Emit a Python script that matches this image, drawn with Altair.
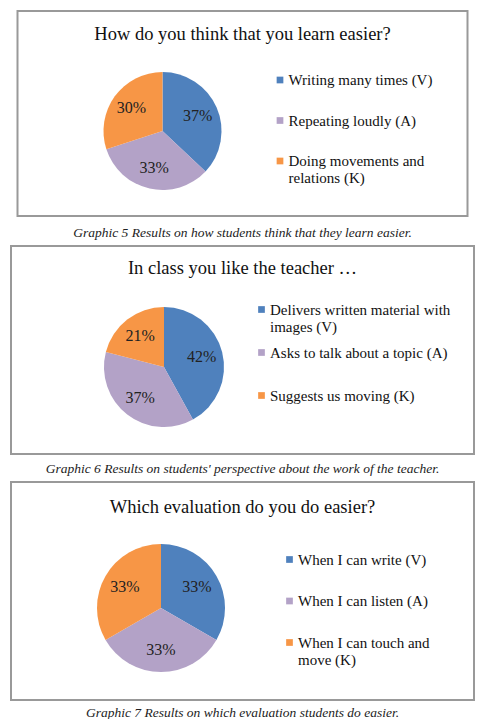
import altair as alt
import pandas as pd

colors = ["#4F81BD", "#B3A2C7", "#F79646"]
FONT = "Liberation Serif"

titles = [
    "How do you think that you learn easier?",
    "In class you like the teacher \u2026",
    "Which evaluation do you do easier?",
]
captions = [
    "Graphic 5 Results on how students think that they learn easier.",
    "Graphic 6 Results on students' perspective about the work of the teacher.",
    "Graphic 7 Results on which evaluation students do easier.",
]
cats1 = ["Writing many times (V)", "Repeating loudly (A)", "Doing movements and|relations (K)"]
vals1 = [37, 33, 30]
cats2 = ["Delivers written material with|images (V)", "Asks to talk about a topic (A)| ", "Suggests us moving (K)"]
vals2 = [42, 37, 21]
cats3 = ["When I can write (V)", "When I can listen (A)", "When I can touch and|move (K)"]
vals3 = [33, 33, 33]


def panel(title, cats, vals, caption, w, h, cx, cy, r, ty, lx, ly, rowpad, capoff):
    df = pd.DataFrame({
        "cat": cats,
        "val": vals,
        "ord": list(range(len(cats))),
        "pct": [f"{v}%" for v in vals],
    })
    base = alt.Chart(df).encode(
        theta=alt.Theta("val:Q", stack=True),
        order=alt.Order("ord:Q"),
    )
    pie = base.mark_arc(outerRadius=r).encode(
        color=alt.Color(
            "cat:N",
            sort=cats,
            scale=alt.Scale(domain=cats, range=colors),
            legend=alt.Legend(
                title=None,
                orient="none",
                legendX=lx,
                legendY=ly,
                symbolType="square",
                symbolSize=45,
                symbolStrokeWidth=0,
                labelFont=FONT,
                labelFontSize=15,
                labelColor="#111",
                labelLimit=400,
                labelOffset=1,
                rowPadding=rowpad,
                labelExpr="split(datum.label, '|')",
            ),
        ),
        x=alt.value(cx),
        y=alt.value(cy),
    )
    txt = base.mark_text(radius=r * 0.65, font=FONT, fontSize=16, color="#222").encode(
        text="pct:N", x=alt.value(cx), y=alt.value(cy)
    )
    head = alt.Chart(pd.DataFrame({"t": [title]})).mark_text(
        font=FONT, fontSize=18.5, color="#111"
    ).encode(text="t:N", x=alt.value(w / 2), y=alt.value(ty))
    return alt.layer(pie, txt, head).properties(
        width=w,
        height=h,
        title=alt.TitleParams(
            caption,
            orient="bottom",
            anchor="middle",
            font=FONT,
            fontStyle="italic",
            fontWeight="normal",
            fontSize=13.5,
            color="#222",
            offset=capoff,
        ),
    )


p1 = panel(titles[0], cats1, vals1, captions[0], 450, 205, 145, 120, 59, 23, 255, 61.5, 24.5, 10)
p2 = panel(titles[1], cats2, vals2, captions[1], 463, 208, 153, 121, 60, 22, 243, 56, 10, 8)
p3 = panel(titles[2], cats3, vals3, captions[2], 463, 218, 150, 126, 64, 25, 271, 70, 25.5, 6)

chart = alt.vconcat(p1, p2, p3, spacing=4, center=True).resolve_scale(
    color="independent"
).resolve_legend(color="independent").configure_view(
    stroke="#999999", strokeWidth=2
).properties(
    padding={"left": 10, "top": 10, "right": 0, "bottom": 0},
    background="white",
)

chart.save("out.html", embed_options={"renderer": "svg", "actions": False})
